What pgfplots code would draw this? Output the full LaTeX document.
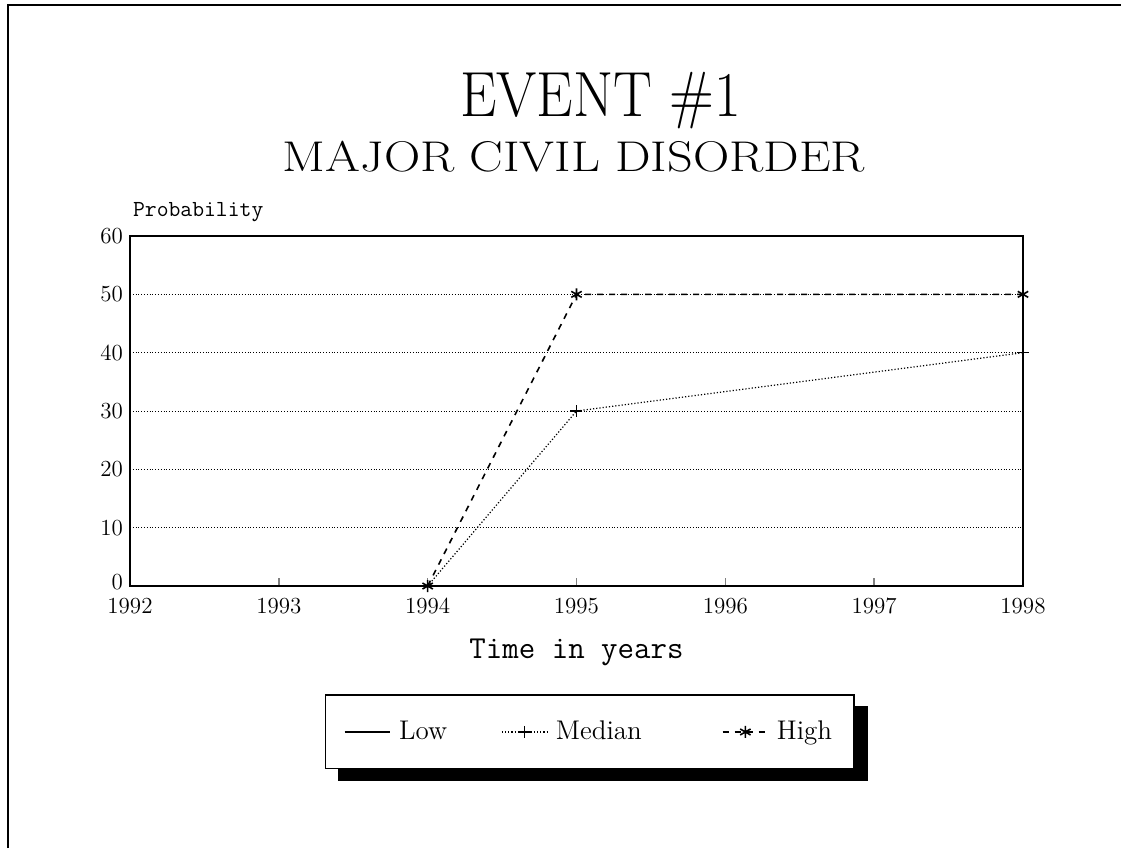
\documentclass[border=0pt]{standalone}
\usepackage{pgfplots}
\pgfplotsset{compat=1.18}
\pgfdeclarelayer{background}
\pgfsetlayers{background,main}
\begin{document}
\begin{tikzpicture}
\path[use as bounding box] (-65pt,-136.5pt) rectangle (495.5pt,293pt);
\draw[line width=0.6pt] (-61pt,-131pt) -- (-61pt,290.5pt) -- (495.5pt,290.5pt);
\begin{axis}[
  at={(0pt,0pt)}, anchor=south west,
  scale only axis, width=446.5pt, height=175pt,
  xmin=1992, xmax=1998, ymin=0, ymax=60,
  xtick={1992,1993,...,1998}, ytick={0,10,...,60},
  yticklabels={\raisebox{4pt}{0},10,20,30,40,50,60},
  /pgf/number format/1000 sep={},
  /pgf/number format/assume math mode=true,
  tick label style={font=\rmfamily\fontsize{11.5}{12}\selectfont},
  xticklabel style={yshift=-2.5pt},
  axis line style={line width=0.9pt},
  tick align=inside, xtick pos=lower, ytick pos=left,
  major tick length=4pt,
  ytick style={draw=none},
  xtick style={line width=0.8pt},
  ymajorgrids, grid style={densely dotted, line width=0.5pt, black},
  xlabel={\ttfamily\fontsize{16}{18}\selectfont Time in years},
  xlabel style={at={(0.5,-0.19)}, anchor=center},
  legend columns=3,
  legend style={name=leg, at={(0.515,-0.417)}, anchor=center, draw=black, line width=0.6pt,
    fill=white, font=\rmfamily\fontsize{13.5}{14}\selectfont,
    inner xsep=9pt, inner ysep=11pt,
    /tikz/every odd column/.append style={column sep=2pt},
    /tikz/every even column/.append style={column sep=25pt}},
  legend image code/.code={\draw[mark repeat=2,mark phase=2,#1] plot coordinates {(0cm,0cm)(0.4cm,0cm)(0.8cm,0cm)};},
  clip=false,
]
\addplot[black, line width=0.9pt, no marks] coordinates {(1994,0) (1995,0) (1998,0)};
\addlegendentry{Low}
\addplot[black, densely dotted, line width=0.6pt, mark=+, mark size=3pt, mark options={solid, line width=0.8pt}] coordinates {(1994,0) (1995,30) (1998,40)};
\addlegendentry{Median\kern13pt\relax}
\addplot[black, dashed, line width=0.8pt, mark=asterisk, mark size=3pt, mark options={solid, line width=0.8pt}] coordinates {(1994,0) (1995,50) (1998,50)};
\addlegendentry{High}
\node[anchor=south west, inner sep=0pt, font=\ttfamily\fontsize{11.5}{12}\selectfont] at (rel axis cs:0.003,1.04) {Probability};
\node[font=\fontsize{29}{30}\selectfont] at (rel axis cs:0.527,1.386) {\scalebox{1}[1.1]{EVENT \#1}};
\node[font=\fontsize{21.5}{23}\selectfont] at (rel axis cs:0.497,1.226) {\scalebox{1.17}[1]{MAJOR CIVIL DISORDER}};
\end{axis}
\begin{pgfonlayer}{background}
\fill[black] ([xshift=6.5pt,yshift=-6pt]leg.south west) rectangle ([xshift=6.5pt,yshift=-6pt]leg.north east);
\end{pgfonlayer}
\end{tikzpicture}
\end{document}
